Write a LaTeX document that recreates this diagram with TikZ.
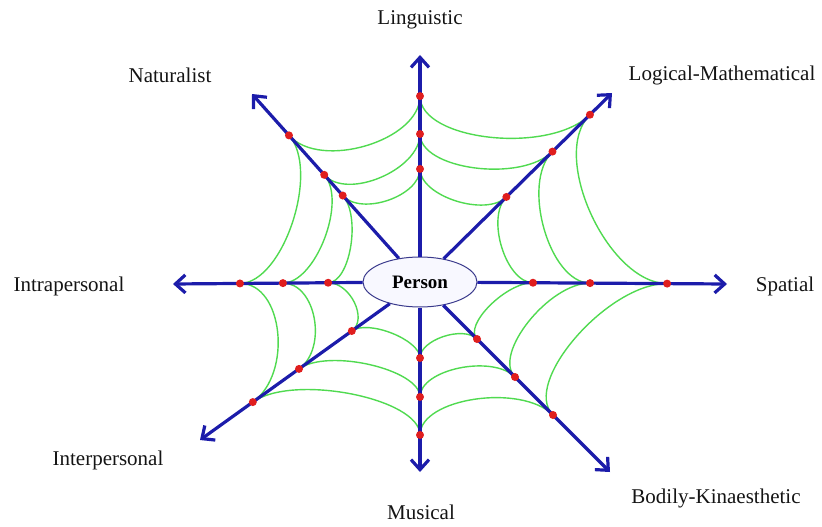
\documentclass[tikz,border=0pt]{standalone}
\usepackage{fontspec}
\setmainfont{Liberation Serif}
\usetikzlibrary{arrows.meta,calc,shapes.geometric}
\definecolor{spokeblue}{HTML}{1C1CAA}
\definecolor{webgreen}{HTML}{50DA50}
\definecolor{knotred}{HTML}{E01E1E}
\definecolor{rim}{HTML}{3A3A8C}
\definecolor{core}{HTML}{F8F8FF}
\definecolor{ink}{HTML}{141414}
\tikzset{
  spoke/.style={draw=spokeblue, line width=3.2pt,
                -{Straight Barb[length=10pt,width=18pt]}},
  strand/.style={draw=webgreen, line width=1.4pt},
  knot/.style={circle, fill=knotred, inner sep=0pt, minimum size=8pt},
  hub/.style={ellipse, draw=rim, fill=core, line width=1pt, inner sep=0pt,
              minimum width=114pt, minimum height=50pt,
              font=\bfseries\fontsize{19}{22}\selectfont},
  intel/.style={text=ink, inner sep=0pt, font=\fontsize{21}{24}\selectfont}
}

\begin{document}
\begin{tikzpicture}[x=1pt,y=-1pt]
    \useasboundingbox (0,0) rectangle (822,527);

    % the person in the middle
    \node[hub] (person) at (420,282) {Person};

    % ends of the eight spokes
    \coordinate (tip-n)  at (420,55);
    \coordinate (tip-ne) at (612,93);
    \coordinate (tip-e)  at (727,284);
    \coordinate (tip-se) at (610,472);
    \coordinate (tip-s)  at (420,472);
    \coordinate (tip-sw) at (200,440);
    \coordinate (tip-w)  at (173,284);
    \coordinate (tip-nw) at (252,94);

    % three knots on every spoke
    \foreach \ax/\f/\g/\h in {n/0.819/0.652/0.498, ne/0.885/0.69/0.45,
                              e/0.805/0.554/0.368, se/0.70/0.50/0.30,
                              s/0.805/0.605/0.40, sw/0.76/0.55/0.31,
                              w/0.729/0.555/0.372, nw/0.78/0.57/0.46}{
      \coordinate (\ax-1) at ($(person.center)!\f!(tip-\ax)$);
      \coordinate (\ax-2) at ($(person.center)!\g!(tip-\ax)$);
      \coordinate (\ax-3) at ($(person.center)!\h!(tip-\ax)$);
    }

    % web between neighbouring spokes
    \foreach \a/\b in {n/ne, ne/e, e/se, se/s, s/sw, sw/w, w/nw, nw/n}
      \foreach \i in {1,2,3}
        \draw[strand] (\a-\i) .. controls ($(\a-\i)!0.24!(person.center)$)
          and ($(\b-\i)!0.24!(person.center)$) .. (\b-\i);

    % spokes
    \foreach \ax in {n,ne,e,se,s,sw,w,nw}
      \draw[spoke] (person) -- (tip-\ax);

    % knots
    \foreach \ax in {n,ne,e,se,s,sw,w,nw}
      \foreach \i in {1,2,3}
        \node[knot] (k-\ax-\i) at (\ax-\i) {};

    % intelligences
    \node[intel] (lbl-n)  at (420,20)  {Linguistic};
    \node[intel] (lbl-ne) at (722,75)  {Logical-Mathematical};
    \node[intel] (lbl-e)  at (785,286) {Spatial};
    \node[intel] (lbl-se) at (716,498) {Bodily-Kinaesthetic};
    \node[intel] (lbl-s)  at (421,512) {Musical};
    \node[intel] (lbl-sw) at (108,460) {Interpersonal};
    \node[intel] (lbl-w)  at (69,286)  {Intrapersonal};
    \node[intel] (lbl-nw) at (170,75)  {Naturalist};
\end{tikzpicture}
\end{document}
